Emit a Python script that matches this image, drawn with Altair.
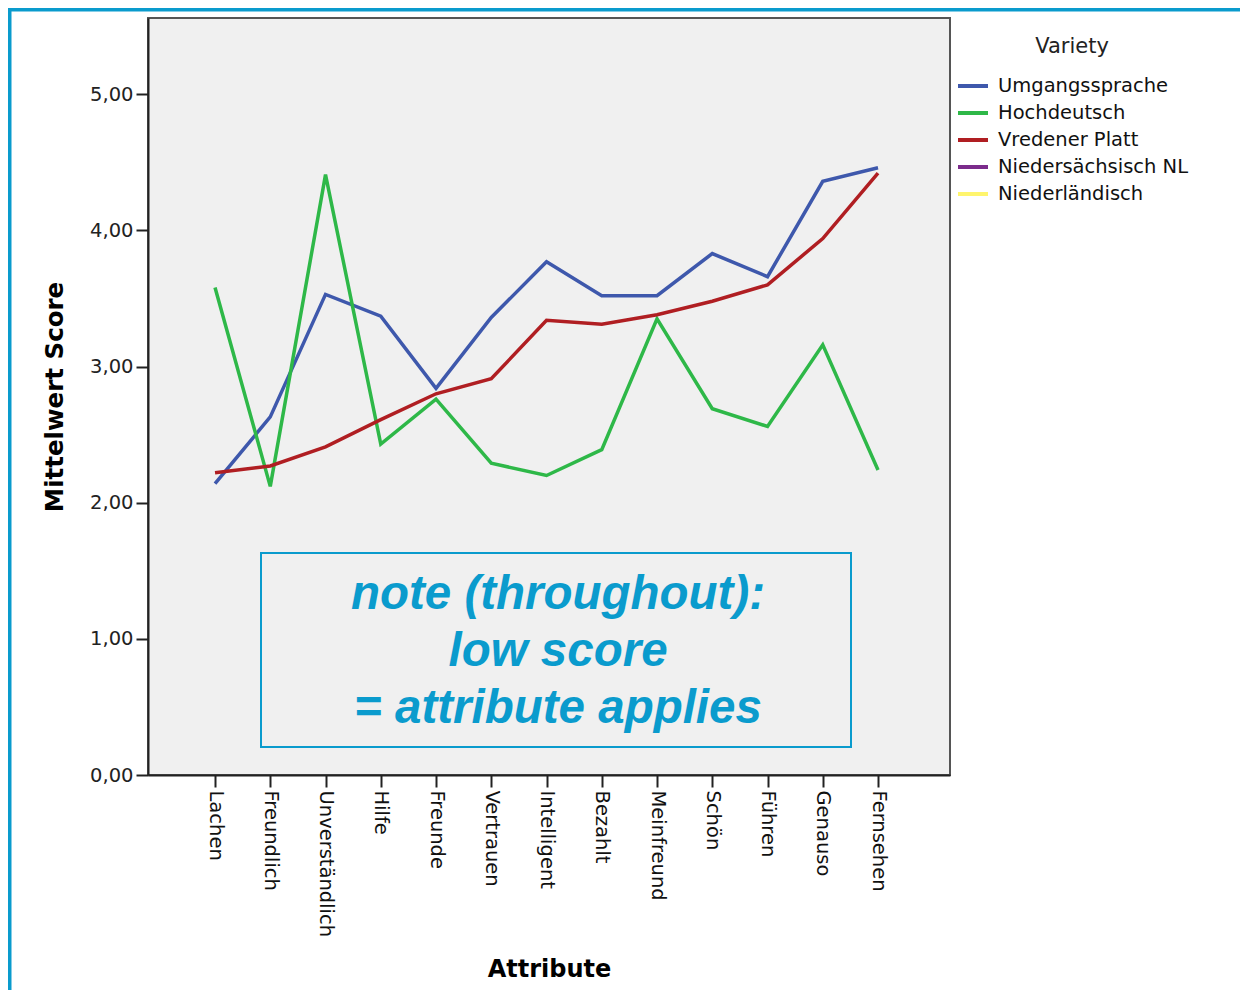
import altair as alt
import pandas as pd
import json

attributes = ["Lachen", "Freundlich", "Unverständlich", "Hilfe", "Freunde", "Vertrauen",
              "Intelligent", "Bezahlt", "Meinfreund", "Schön", "Führen", "Genauso", "Fernsehen"]
varieties = ["Umgangssprache", "Hochdeutsch", "Vredener Platt", "Niedersächsisch NL", "Niederländisch"]
colors = ["#3E58AC", "#2EB848", "#B01E22", "#7B2B8B", "#FFF56D"]

umgangssprache = [2.14, 2.63, 3.53, 3.37, 2.84, 3.36, 3.77, 3.52, 3.52, 3.83, 3.66, 4.36, 4.46]
hochdeutsch = [3.58, 2.12, 4.41, 2.43, 2.76, 2.29, 2.20, 2.39, 3.35, 2.69, 2.56, 3.16, 2.24]
vredener_platt = [2.22, 2.27, 2.41, 2.61, 2.80, 2.91, 3.34, 3.31, 3.38, 3.48, 3.60, 3.94, 4.42]

note_lines = ["note (throughout):", "low score", "= attribute applies"]

rows = []
for name, vals in [("Umgangssprache", umgangssprache), ("Hochdeutsch", hochdeutsch),
                   ("Vredener Platt", vredener_platt)]:
    for i, (a, v) in enumerate(zip(attributes, vals)):
        rows.append({"idx": i, "Attribute": a, "Score": v, "Variety": name})
df = pd.DataFrame(rows)

W, H = 802, 757
ACCENT = "#0A9BCD"
label_array = json.dumps(attributes, ensure_ascii=False)

lines = alt.Chart(df).mark_line(strokeWidth=3.5).encode(
    x=alt.X("idx:Q",
            scale=alt.Scale(domain=[-1.213, 13.303], nice=False, zero=False),
            axis=alt.Axis(title="Attribute", values=list(range(len(attributes))),
                          labelExpr=f"{label_array}[datum.value]",
                          labelAngle=90, labelAlign="left", labelBaseline="middle",
                          labelFontSize=19.5, labelFont="DejaVu Sans", labelColor="#111111",
                          titleFont="DejaVu Sans", titleFontSize=24, titleFontWeight="bold",
                          titleColor="#000000", titlePadding=21, labelFlush=False,
                          labelOverlap=False,
                          tickSize=12, tickColor="#222222", tickWidth=2,
                          domainColor="#222222", domainWidth=2, grid=False, labelPadding=3)),
    y=alt.Y("Score:Q", scale=alt.Scale(domain=[0, 5.56], nice=False, zero=True),
            axis=alt.Axis(title="Mittelwert Score", values=[0, 1, 2, 3, 4, 5],
                          labelExpr="replace(format(datum.value, '.2f'), '.', ',')",
                          labelFontSize=19.5, labelFont="DejaVu Sans", labelColor="#222222",
                          titleFont="DejaVu Sans", titleFontSize=24.5, titleFontWeight="bold",
                          titleColor="#000000", titlePadding=22,
                          tickSize=12, tickColor="#222222", tickWidth=2,
                          domainColor="#222222", domainWidth=2, grid=False, labelPadding=3)),
    color=alt.Color("Variety:N", scale=alt.Scale(domain=varieties, range=colors),
                    legend=alt.Legend(title="Variety", orient="none", legendX=808, legendY=18,
                                      titleFont="DejaVu Sans", titleFontSize=21,
                                      titleFontWeight="normal", titleColor="#222222",
                                      titleAnchor="middle", titlePadding=12,
                                      labelFont="DejaVu Sans", labelFontSize=19.5,
                                      labelColor="#111111", labelLimit=400,
                                      symbolType="stroke",
                                      symbolStrokeWidth=4, symbolSize=900,
                                      rowPadding=-3, labelOffset=8, values=varieties)),
)

box = alt.Chart(pd.DataFrame({"k": [0]})).mark_rect(
    fill="#f0f0f0", stroke=ACCENT, strokeWidth=2
).encode(x=alt.value(113), x2=alt.value(703), y=alt.value(535), y2=alt.value(729))

note_df = pd.DataFrame({"line": note_lines, "i": [0, 1, 2]})
note = alt.Chart(note_df).mark_text(
    font="Liberation Sans", fontSize=47.5, fontWeight="bold", fontStyle="italic",
    color=ACCENT, align="center", baseline="middle"
).encode(
    x=alt.value(410),
    y=alt.Y("i:Q", scale=alt.Scale(domain=[0, 2], range=[577, 691]), axis=None),
    text="line:N",
)

frame_left = alt.Chart(pd.DataFrame({"k": [0]})).mark_rule(color=ACCENT, strokeWidth=4).encode(
    x=alt.value(-138.5), y=alt.value(-20), y2=alt.value(H + 250))
frame_top = alt.Chart(pd.DataFrame({"k": [0]})).mark_rule(color=ACCENT, strokeWidth=4).encode(
    x=alt.value(-140), x2=alt.value(W + 320), y=alt.value(-8.5))

chart = alt.layer(lines, box, note, frame_left, frame_top).resolve_scale(y="independent").properties(
    width=W, height=H,
    autosize=alt.AutoSizeParams(type="none"),
    padding={"left": 140, "top": 10, "right": 290, "bottom": 215},
    background="white",
).configure_view(fill="#f0f0f0", stroke="#555555", strokeWidth=2)

chart.save("out.html", embed_options={"renderer": "svg", "actions": False})
